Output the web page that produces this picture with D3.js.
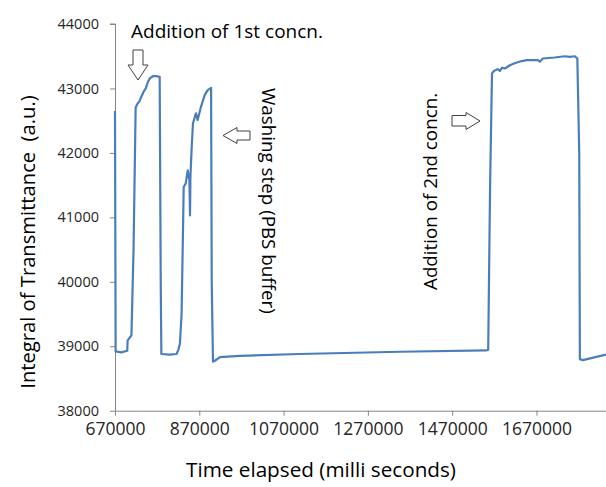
<!DOCTYPE html>
<html lang="en">
<head>
<meta charset="UTF-8">
<title>Transmittance</title>
<script src="https://cdn.jsdelivr.net/npm/d3@7/dist/d3.min.js"></script>
<style>
  body { margin: 0; background: #fff; }
  text { font-family: "Open Sans", Lato, sans-serif; }
</style>
</head>
<body>
<svg width="606" height="487"></svg>
<script>
// data
var timeMs = [670000, 671500, 685000, 699000, 700000, 709000, 714000, 719000, 723000, 728000,
  733000, 738000, 743000, 748000, 753000, 760000, 768000, 776000, 778500, 780000,
  800000, 816000, 820000, 824000, 828000, 832000, 833000, 838000, 842500, 846500,
  848000, 849000, 852000, 855000, 862000, 866000, 874000, 883000, 890000, 898000,
  899500, 902500, 907000, 919000, 966000, 1108000, 1346000, 1551000, 1555500, 1560000,
  1564500, 1569000, 1578000, 1583000, 1588000, 1595000, 1607000, 1618000, 1635000, 1647000,
  1673000, 1678000, 1685000, 1713000, 1737000, 1749000, 1761000, 1767000, 1771500, 1773000,
  1780000, 1835000];
var transmittance = [42650, 38920, 38905, 38930, 39090, 39170, 40500, 42700, 42760, 42800,
  42880, 42950, 43000, 43100, 43160, 43190, 43190, 43180, 40000, 38880,
  38870, 38880, 38940, 39040, 39500, 41060, 41470, 41530, 41730, 41580,
  41030, 41640, 42090, 42460, 42615, 42510, 42715, 42900, 42975, 43010,
  40000, 38760, 38775, 38830, 38850, 38880, 38915, 38935, 38945, 41500,
  43234, 43270, 43300, 43270, 43320, 43310, 43360, 43390, 43425, 43440,
  43440, 43415, 43465, 43480, 43500, 43490, 43500, 43465, 42000, 38800,
  38785, 38870];
var xTicks = [670000, 870000, 1070000, 1270000, 1470000, 1670000];
var yTicks = [38000, 39000, 40000, 41000, 42000, 43000, 44000];

var svg = d3.select('svg');
var marge = {top: 24, left: 115, right: 0, bottom: 76};
var width = +svg.attr('width'), height = +svg.attr('height');

var x = d3.scaleLinear().domain([670000, 1835000]).range([marge.left, width - marge.right]);
var y = d3.scaleLinear().domain([38000, 44000]).range([height - marge.bottom - 0.3, marge.top]);

// axes
var xAxis = svg.append('g')
    .attr('transform', 'translate(0,' + y(38000) + ')')
    .call(d3.axisBottom(x).tickValues(xTicks).tickSize(5).tickPadding(7).tickFormat(d3.format('d')));
var yAxis = svg.append('g')
    .attr('transform', 'translate(' + x(670000) + ',0)')
    .call(d3.axisLeft(y).tickValues(yTicks).tickSize(5).tickPadding(11).tickFormat(d3.format('d')));
[xAxis, yAxis].forEach(function (a) {
  a.select('.domain').attr('stroke', '#868686').attr('stroke-width', 1);
  a.selectAll('.tick line').attr('stroke', '#868686');
});
xAxis.selectAll('.tick text').attr('fill', '#262626').style('font-size', '17.5px');
yAxis.selectAll('.tick text').attr('fill', '#262626').style('font-size', '14.5px');
// no outer ticks on the domain lines
xAxis.select('.domain').attr('d', 'M' + x.range()[0] + ',0.5H' + x.range()[1]);
yAxis.select('.domain').attr('d', 'M0.5,' + y.range()[0] + 'V' + y.range()[1] + 'H-5');

// line
var line = d3.line()
    .x(function (d, i) { return x(timeMs[i]); })
    .y(function (d) { return y(d); });
svg.append('path')
    .datum(transmittance)
    .attr('d', line)
    .attr('fill', 'none')
    .attr('stroke', '#4a7ebb')
    .attr('stroke-width', 2.2)
    .attr('stroke-linejoin', 'round');

// axis titles
svg.append('text')
    .attr('x', 321).attr('y', 477)
    .attr('text-anchor', 'middle')
    .style('font-size', '20.7px').attr('fill', '#000')
    .text('Time elapsed (milli seconds)');
svg.append('text')
    .attr('transform', 'translate(35,242) rotate(-90)')
    .attr('text-anchor', 'middle')
    .style('font-size', '20.2px').style('white-space', 'pre').attr('fill', '#000')
    .text('Integral of Transmittance  (a.u.)');

// annotations
svg.append('text')
    .attr('x', 131).attr('y', 38)
    .style('font-size', '19px').attr('fill', '#000')
    .text('Addition of 1st concn.');
svg.append('text')
    .attr('transform', 'translate(262,88) rotate(90)')
    .style('font-size', '18.8px').attr('fill', '#000')
    .text('Washing step (PBS buffer)');
svg.append('text')
    .attr('transform', 'translate(437,290) rotate(-90)')
    .style('font-size', '18.8px').attr('fill', '#000')
    .text('Addition of 2nd concn.');

// block arrows
var arrows = [
  'M133,50H143V65H148L138,80L128,65H133Z',
  'M250,131V140H237V143.5L223,135.5L237,127.5V131Z',
  'M452,115.5V126H466V129.5L480,121L466,112.5V115.5Z'
];
svg.selectAll('.arrow')
    .data(arrows)
    .enter()
    .append('path')
    .attr('class', 'arrow')
    .attr('d', function (d) { return d; })
    .attr('fill', '#fff')
    .attr('stroke', '#404040')
    .attr('stroke-width', 1);
</script>
</body>
</html>
